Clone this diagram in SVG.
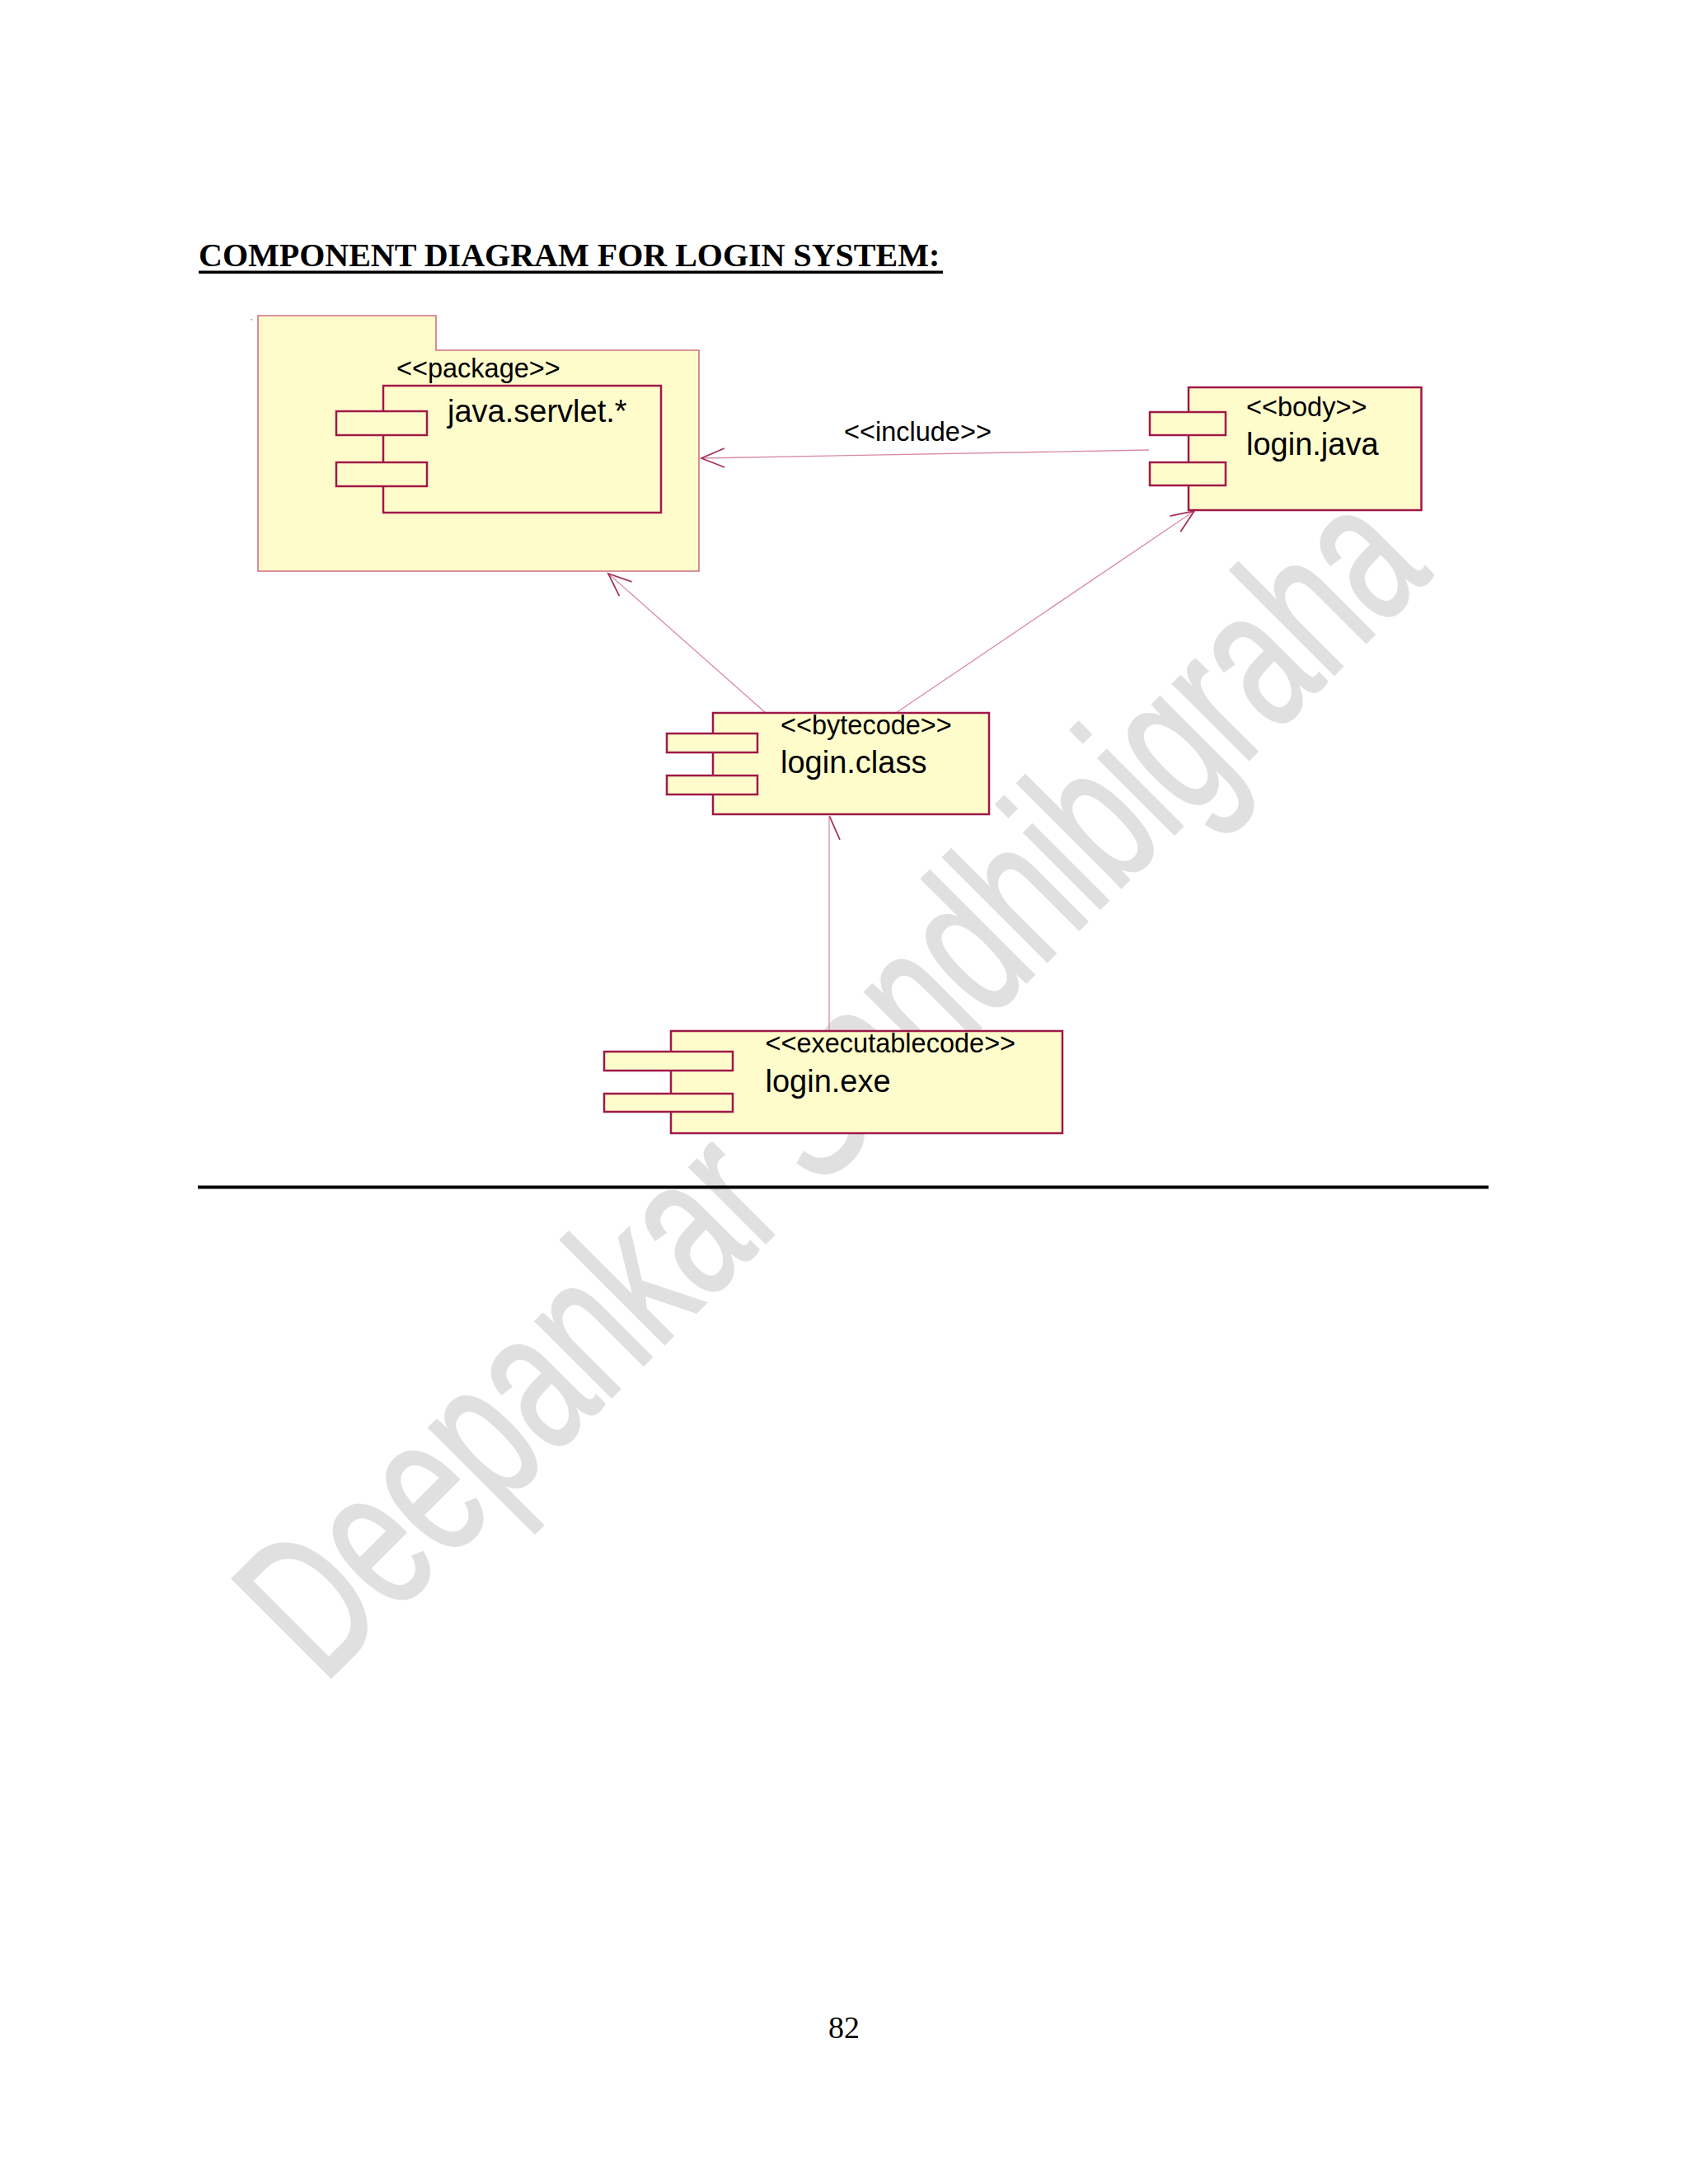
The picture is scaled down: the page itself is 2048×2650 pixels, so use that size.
<svg xmlns="http://www.w3.org/2000/svg" width="2048" height="2650" viewBox="0 0 2048 2650">
<style>
.bg{fill:#ffffff}
.comp{fill:#fffccc;stroke:#a01848;stroke-width:2.5}
.pkg{fill:#fffccc;stroke:#d0707f;stroke-width:1.6}
.st{font-family:"Liberation Sans",Arial,sans-serif;font-size:32.5px;fill:#000}
.nm{font-family:"Liberation Sans",Arial,sans-serif;font-size:38px;fill:#000}
.conn{fill:none;stroke:#d88ba0;stroke-width:1.3}
.head{fill:none;stroke:#a8335a;stroke-width:1.8}
.wm{font-family:"Liberation Sans",Arial,sans-serif;font-size:164px;fill:#e0e0e0;stroke:#e0e0e0;stroke-width:2}
</style>
<defs>
<marker id="open" markerUnits="userSpaceOnUse" viewBox="-32 -16 34 32" refX="0" refY="0" markerWidth="34" markerHeight="32" orient="auto" overflow="visible">
<path d="M-28,-11.5 L0,0 L-28,11.5" class="head"/>
</marker>
</defs>
<rect class="bg" x="0" y="0" width="2048" height="2650"/>
<text class="wm" transform="translate(392,2045) rotate(-45) scale(1,1.5)">Deepankar Sandhibigraha</text>
<g id="title">
<text x="241" y="323" font-family="'Liberation Serif','Times New Roman',serif" font-weight="bold" font-size="40">COMPONENT DIAGRAM FOR LOGIN SYSTEM:</text>
<rect x="241" y="328.5" width="903" height="3.5" fill="#000"/>
</g>
<g id="connectors">
<line class="conn" x1="1394" y1="546" x2="851" y2="556" marker-end="url(#open)"/>
<text class="st" x="1024" y="535">&lt;&lt;include&gt;&gt;</text>
<line class="conn" x1="929" y1="865" x2="738" y2="696" marker-end="url(#open)"/>
<line class="conn" x1="1087" y1="865" x2="1449" y2="620" marker-end="url(#open)"/>
<line class="conn" x1="1006" y1="1251" x2="1006" y2="990"/>
<path class="head" d="M1006.5,990.5 L1019,1019"/>
</g>
<g id="pkg-servlet">
<rect x="304.5" y="387" width="1.5" height="1.5" fill="#d0707f"/>
<path class="pkg" d="M313,383 H529 V425 H848 V693 H313 Z"/>
<text class="st" x="481" y="458">&lt;&lt;package&gt;&gt;</text>
<rect class="comp" x="465" y="468" width="337" height="154"/>
<rect class="comp" x="408" y="499" width="110" height="29"/>
<rect class="comp" x="408" y="561" width="110" height="29"/>
<text class="nm" x="543" y="512" font-size="37">java.servlet.*</text>
</g>
<g id="login-java">
<rect class="comp" x="1442" y="470" width="282.5" height="149"/>
<rect class="comp" x="1395" y="500" width="92" height="28"/>
<rect class="comp" x="1395" y="561" width="92" height="28"/>
<text class="st" x="1512" y="505">&lt;&lt;body&gt;&gt;</text>
<text class="nm" x="1512" y="552">login.java</text>
</g>
<g id="login-class">
<rect class="comp" x="865" y="865" width="335" height="123"/>
<rect class="comp" x="809" y="890" width="110" height="23"/>
<rect class="comp" x="809" y="941" width="110" height="23"/>
<text class="st" x="947" y="891">&lt;&lt;bytecode&gt;&gt;</text>
<text class="nm" x="947" y="938">login.class</text>
</g>
<g id="login-exe">
<rect class="comp" x="814" y="1251" width="475" height="124"/>
<rect class="comp" x="733" y="1276" width="156" height="23"/>
<rect class="comp" x="733" y="1327" width="156" height="22"/>
<text class="st" x="928.5" y="1277">&lt;&lt;executablecode&gt;&gt;</text>
<text class="nm" x="928.5" y="1325">login.exe</text>
</g>
<rect x="240" y="1438.5" width="1566" height="4" fill="#000"/>
<text x="1024" y="2473" text-anchor="middle" font-family="'Liberation Serif','Times New Roman',serif" font-size="38">82</text>
</svg>
